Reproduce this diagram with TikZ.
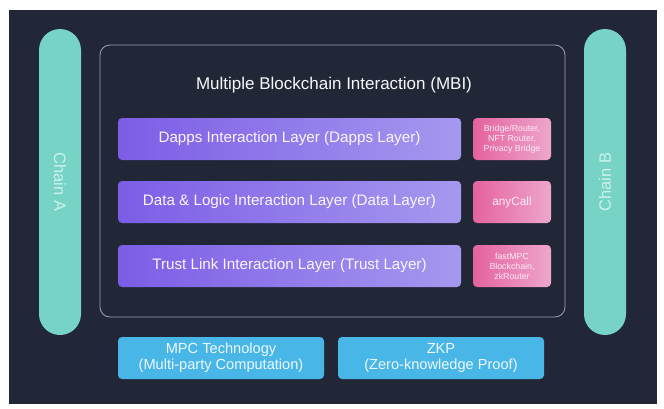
\documentclass[tikz,border=0pt]{standalone}
\usepackage{fontspec}
\setmainfont{Liberation Sans}
\definecolor{bgdark}{HTML}{222738}
\definecolor{chainteal}{HTML}{76D3C6}
\definecolor{chaintext}{HTML}{CDF2EC}
\definecolor{purpleL}{HTML}{7C5DE6}
\definecolor{purpleR}{HTML}{A698EF}
\definecolor{pinkL}{HTML}{E5629F}
\definecolor{pinkR}{HTML}{EEA6CD}
\definecolor{techblue}{HTML}{48B7E8}
\definecolor{framegray}{HTML}{A4A3B8}
\tikzset{
  chain/.style={fill=chainteal, rounded corners=21pt, minimum width=42pt, minimum height=306pt, inner sep=0pt,
    text=chaintext, font=\fontsize{16.5}{18}\selectfont},
  layer/.style={left color=purpleL, right color=purpleR, rounded corners=4pt, minimum width=343pt, minimum height=42pt,
    inner sep=0pt, text=white!92!purpleR, font=\fontsize{15.2}{17}\selectfont},
  proto/.style={left color=pinkL, right color=pinkR, rounded corners=4pt, minimum width=78pt, minimum height=42pt,
    inner sep=0pt, align=center, text=white!88!pinkL},
  tech/.style={fill=techblue, rounded corners=4pt, minimum width=206pt, minimum height=42pt, inner sep=0pt,
    align=center, text=white!90!techblue, font=\fontsize{14.6}{16}\selectfont}
}
\begin{document}
\begin{tikzpicture}[x=1pt,y=-1pt]
\fill[white] (0,0) rectangle (664,408);
\fill[bgdark] (9,10) rectangle (657,404);
% chains on both sides
\node[chain] (chainA) at (60,182) {\rotatebox{-90}{Chain A}};
\node[chain] (chainB) at (605,182) {\rotatebox{90}{Chain B}};
% MBI frame
\draw[framegray, line width=0.8pt, rounded corners=10pt] (100,45) rectangle (565,317);
\node[text=white!92!framegray, font=\fontsize{17}{19}\selectfont] (mbi) at (334,85) {Multiple Blockchain Interaction (MBI)};
% layers
\node[layer] (dapps) at (289.5,139) {Dapps Interaction Layer (Dapps Layer)};
\node[layer] (data) at (289.5,202) {Data \& Logic Interaction Layer (Data Layer)};
\node[layer] (trust) at (289.5,266) {Trust Link Interaction Layer (Trust Layer)};
\node[proto, font=\fontsize{8.8}{10}\selectfont] (bridge) at (512,139) {Bridge/Router,\\NFT Router,\\Privacy Bridge};
\node[proto, font=\fontsize{11.8}{13}\selectfont] (anycall) at (512,202) {anyCall};
\node[proto, font=\fontsize{8.8}{10}\selectfont] (fastmpc) at (512,266) {fastMPC\\Blockchain,\\zkRouter};
% technology base
\node[tech] (mpc) at (221,358) {MPC Technology\\(Multi-party Computation)};
\node[tech] (zkp) at (441,358) {ZKP\\(Zero-knowledge Proof)};
\end{tikzpicture}
\end{document}
